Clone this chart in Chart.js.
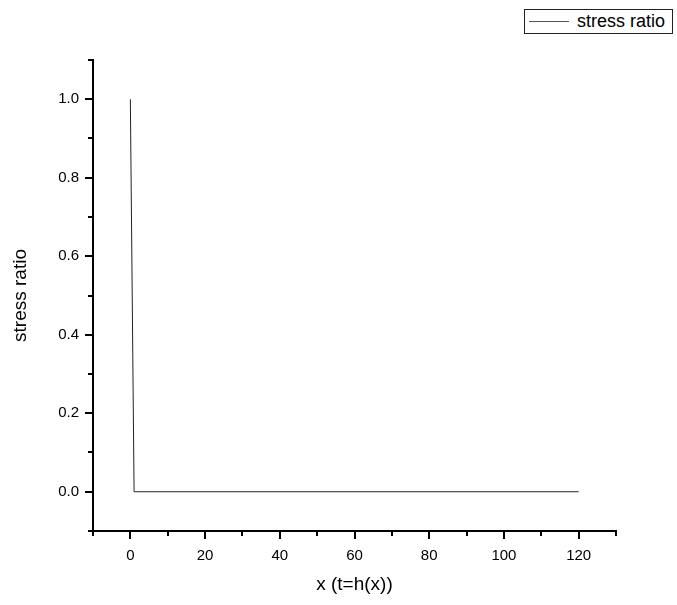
<!DOCTYPE html>
<html>
<head>
<meta charset="utf-8">
<script src="https://cdn.jsdelivr.net/npm/chart.js@4.4.1/dist/chart.umd.min.js"></script>
<style>
  html, body { margin: 0; padding: 0; background: #fff; }
  #wrap { position: relative; width: 677px; height: 605px; }
  #legend { position: absolute; left: 524px; top: 9px; width: 149px; height: 25px;
    border: 1px solid #222; background: #fff; font-family: "Liberation Sans", Arial, sans-serif;
    font-size: 18px; color: #000; box-sizing: border-box; }
  #legend .ln { position: absolute; left: 4px; top: 11px; width: 40px; height: 1px; background: #555; }
  #legend .tx { position: absolute; left: 52px; top: 1px; line-height: 21px; white-space: nowrap; }
</style>
</head>
<body>
<div id="wrap">
  <canvas id="c" width="677" height="605"></canvas>
  <div id="legend"><div class="ln"></div><div class="tx" id="legtext"></div></div>
</div>
<script>
const seriesName = 'stress ratio';
const xValues = [0, 1, 120];
const stressRatio = [1.0, 0.0, 0.0];
const xTickLabels = ['0', '20', '40', '60', '80', '100', '120'];
const yTickLabels = ['0.0', '0.2', '0.4', '0.6', '0.8', '1.0'];
const xAxisTitle = 'x (t=h(x))';
const yAxisTitle = 'stress ratio';

document.getElementById('legtext').textContent = seriesName;

const FONT = '"Liberation Sans", Arial, sans-serif';

const tickMarks = {
  id: 'tickMarks',
  afterDraw(chart) {
    const ctx = chart.ctx;
    ctx.save();
    ctx.strokeStyle = '#000';
    ctx.lineWidth = 2;
    const xs = chart.scales.x, ys = chart.scales.y;
    const area = chart.chartArea;
    xs.ticks.forEach(t => {
      const px = Math.round(xs.getPixelForValue(t.value));
      const major = xTickLabels.includes(String(Math.round(t.value)));
      const len = major ? 8 : 5;
      ctx.beginPath();
      ctx.moveTo(px, area.bottom);
      ctx.lineTo(px, area.bottom + len);
      ctx.stroke();
    });
    ys.ticks.forEach(t => {
      const py = Math.round(ys.getPixelForValue(t.value));
      const major = yTickLabels.includes((Math.round(t.value * 10) / 10).toFixed(1));
      const len = major ? 8 : 5;
      ctx.beginPath();
      ctx.moveTo(area.left, py);
      ctx.lineTo(area.left - len, py);
      ctx.stroke();
    });
    ctx.restore();
  }
};

new Chart(document.getElementById('c'), {
  type: 'scatter',
  data: {
    datasets: [{
      label: seriesName,
      data: xValues.map((x, i) => ({ x: x, y: stressRatio[i] })),
      showLine: true,
      borderColor: '#222',
      borderWidth: 1,
      pointRadius: 0,
      tension: 0
    }]
  },
  options: {
    responsive: false,
    animation: false,
    layout: { padding: { top: 60, right: 61, left: 0, bottom: 0 } },
    plugins: { legend: { display: false }, tooltip: { enabled: false } },
    scales: {
      x: {
        type: 'linear', min: -10, max: 130,
        afterFit(s) { s.height = 74; },
        grid: { display: false, drawTicks: false },
        border: { display: true, color: '#000', width: 2 },
        ticks: {
          stepSize: 10, padding: 16, color: '#000', maxRotation: 0, autoSkip: false,
          font: { family: FONT, size: 15 },
          callback(v) { const s = String(Math.round(v)); return xTickLabels.includes(s) ? s : ''; }
        },
        title: { display: true, text: xAxisTitle, color: '#000', font: { family: FONT, size: 19 }, padding: { top: 0, bottom: 9 } }
      },
      y: {
        type: 'linear', min: -0.1, max: 1.1,
        afterFit(s) { s.width = 93; },
        grid: { display: false, drawTicks: false },
        border: { display: true, color: '#000', width: 2 },
        ticks: {
          stepSize: 0.1, padding: 14, color: '#000', autoSkip: false,
          font: { family: FONT, size: 15 },
          callback(v) { const s = (Math.round(v * 10) / 10).toFixed(1); return yTickLabels.includes(s) ? s : ''; }
        },
        title: { display: true, text: yAxisTitle, color: '#000', font: { family: FONT, size: 19 }, padding: { top: 9, bottom: 0 } }
      }
    }
  },
  plugins: [tickMarks]
});
</script>
</body>
</html>
